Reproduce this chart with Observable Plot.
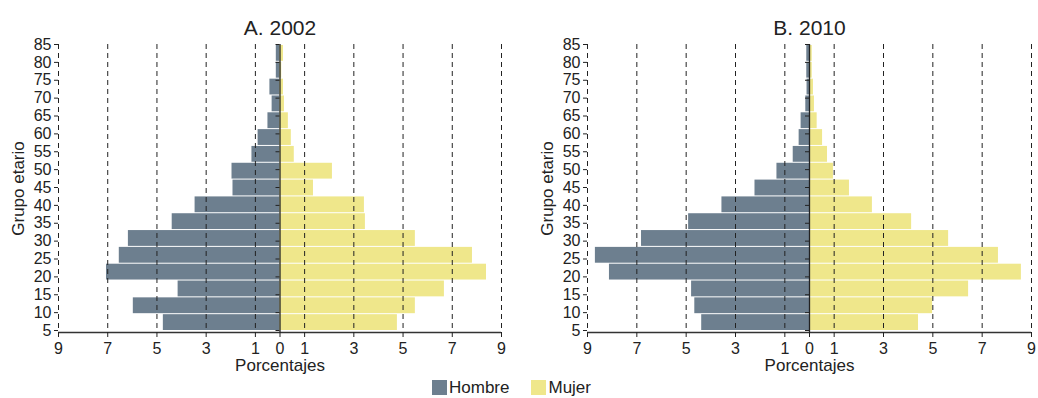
<!DOCTYPE html>
<html><head><meta charset="utf-8">
<script src="https://cdn.jsdelivr.net/npm/d3@7"></script>
<script src="https://cdn.jsdelivr.net/npm/@observablehq/plot@0.6"></script>
<style>
body{margin:0;background:#fff;font-family:"Liberation Sans",Arial,sans-serif;overflow:hidden;}
#wrap{position:relative;width:1038px;height:398px;}
.panel{position:absolute;top:0;}
#legend{position:absolute;top:379px;left:432px;display:flex;align-items:center;font-size:17px;color:#222;line-height:17px;}
#legend .sw{width:15px;height:15px;margin-right:2px;}
#legend .item{display:flex;align-items:center;margin-right:22px;}
</style></head><body>
<div id="wrap">
  <div id="p1" class="panel" style="left:0"></div>
  <div id="p2" class="panel" style="left:529px"></div>
  <div id="legend"></div>
</div>
<script>
// Age group labels (youngest -> oldest)
const ageGroups = [5,10,15,20,25,30,35,40,45,50,55,60,65,70,75,80,85];
// Percentages
const hombre2002 = [4.74,5.96,4.14,7.05,6.53,6.16,4.38,3.45,1.91,1.95,1.14,0.89,0.49,0.32,0.41,0.15,0.15];
const mujer2002  = [4.77,5.50,6.68,8.39,7.82,5.50,3.47,3.43,1.36,2.13,0.58,0.46,0.34,0.18,0.14,0.07,0.14];
const hombre2010 = [4.37,4.65,4.78,8.11,8.68,6.81,4.90,3.55,2.21,1.32,0.66,0.42,0.34,0.15,0.10,0.11,0.11];
const mujer2010  = [4.42,4.99,6.45,8.59,7.66,5.64,4.14,2.55,1.62,0.97,0.73,0.53,0.31,0.20,0.16,0.11,0.11];
const xTicks = [-9,-7,-5,-3,-1,0,1,3,5,7,9];
const gridValues = [-9,-7,-5,-3,-1,1,3,5,7,9];
const panelTitles = ["A. 2002","B. 2010"];
const sexLabels = ["Hombre","Mujer"];
const sexColors = ["#6d7f8f","#efe78b"];
const xLabel = "Porcentajes";
const yLabel = "Grupo etario";

function pyramid(title, hombre, mujer, width, marginRight) {
  const n = ageGroups.length;
  const rows = ageGroups.flatMap((a, i) => [
    {i, age: a, sexo: sexLabels[0], value: -hombre[i]},
    {i, age: a, sexo: sexLabels[1], value: mujer[i]}
  ]);
  const tickPos = ageGroups.map((a, j) => j * n / (n - 1));
  const labelAt = new Map(tickPos.map((p, j) => [p, ageGroups[j]]));
  return Plot.plot({
    width, height: 378,
    marginLeft: 58, marginRight, marginTop: 44, marginBottom: 46,
    style: {fontFamily: "'Liberation Sans', Arial, sans-serif", color: "#222", fontSize: "16px", background: "#fff"},
    x: {domain: [-9, 9]},
    y: {domain: [0, n], range: [330, 44]},
    color: {domain: sexLabels, range: sexColors},
    marks: [
      Plot.rect(rows, {x1: 0, x2: "value", y1: "i", y2: d => d.i + 1, fill: "sexo", insetTop: 1}),
      Plot.ruleX(gridValues, {stroke: "#222", strokeDasharray: "5,4", strokeWidth: 1}),
      Plot.ruleX([0], {stroke: "#222", strokeWidth: 1.3}),
      Plot.ruleY(tickPos, {x1: 0, x2: 0, insetLeft: -4, stroke: "#222"}),
      Plot.ruleY([0], {dy: 2, stroke: "#333", strokeWidth: 1.3}),
      Plot.axisY(tickPos, {tickFormat: d => labelAt.get(d), tickSize: 4, tickPadding: 3, fontSize: 16, label: null}),
      Plot.axisX(xTicks, {tickFormat: d => Math.abs(d), tickSize: 5, tickPadding: 5, fontSize: 16, label: null}),
      Plot.text([title], {text: d => d, frameAnchor: "top", dy: -24, fontSize: 21}),
      Plot.text([xLabel], {text: d => d, frameAnchor: "bottom", dy: 38, fontSize: 17}),
      Plot.text([yLabel], {text: d => d, frameAnchor: "left", textAnchor: "middle", dx: -40, rotate: -90, fontSize: 17})
    ]
  });
}

document.getElementById("p1").appendChild(pyramid(panelTitles[0], hombre2002, mujer2002, 529, 28));
document.getElementById("p2").appendChild(pyramid(panelTitles[1], hombre2010, mujer2010, 509, 7));

const legend = document.getElementById("legend");
sexLabels.forEach((s, k) => {
  const item = document.createElement("div");
  item.className = "item";
  const sw = document.createElement("div");
  sw.className = "sw";
  sw.style.background = sexColors[k];
  const t = document.createElement("span");
  t.textContent = s;
  item.appendChild(sw); item.appendChild(t);
  legend.appendChild(item);
});
</script>
</body></html>
